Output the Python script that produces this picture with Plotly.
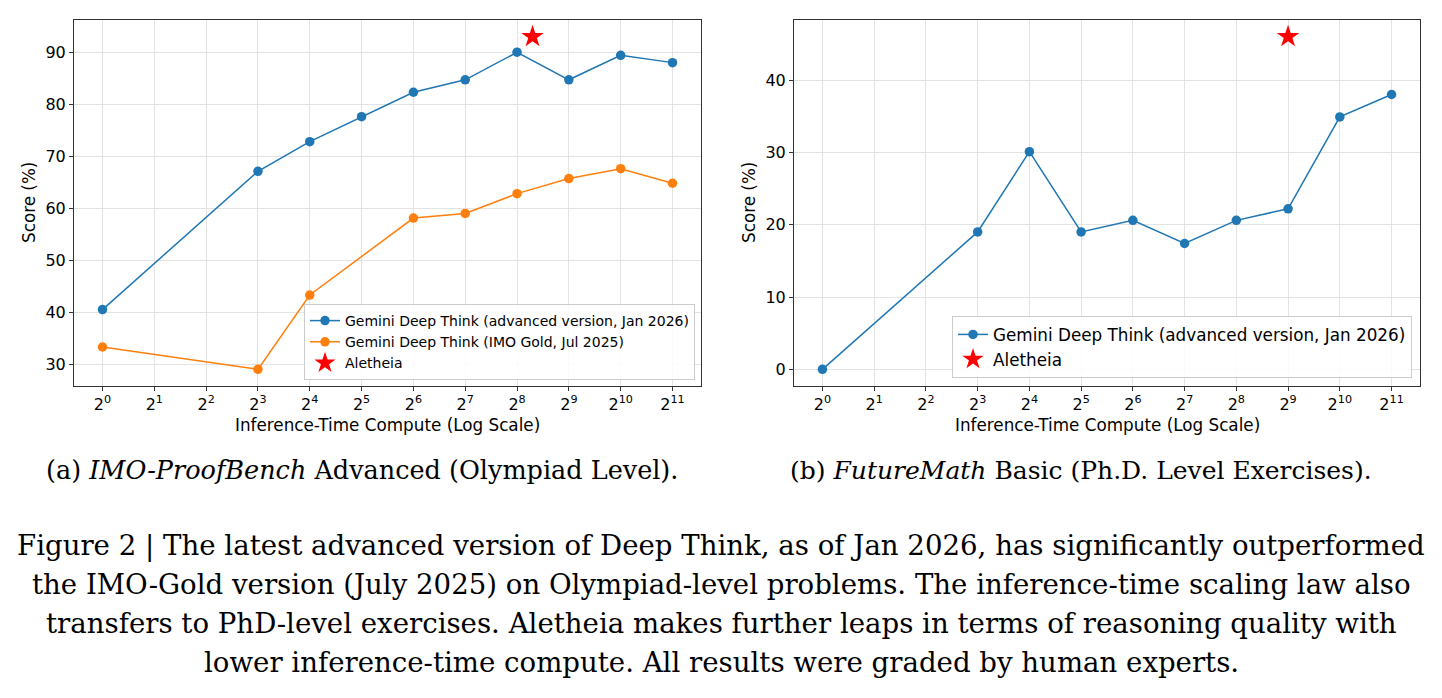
import math
import plotly.graph_objects as go

W, H = 1442, 698

# ---------------- data ----------------
exponents = list(range(12))
tick_labels = [f"2<sup>{e}</sup>" for e in exponents]
tick_vals = [2 ** e for e in exponents]

# Panel (a) IMO-ProofBench Advanced
a_new_x = [1, 8, 16, 32, 64, 128, 256, 512, 1024, 2048]
a_new_y = [40.5, 67.1, 72.8, 77.6, 82.3, 84.7, 90.0, 84.7, 89.4, 88.0]
a_old_x = [1, 8, 16, 64, 128, 256, 512, 1024, 2048]
a_old_y = [33.3, 29.0, 43.3, 58.1, 59.0, 62.8, 65.7, 67.6, 64.8]
a_star_x = [315]
a_star_y = [93.0]

# Panel (b) FutureMath Basic
b_new_x = [1, 8, 16, 32, 64, 128, 256, 512, 1024, 2048]
b_new_y = [0.0, 19.0, 30.1, 19.0, 20.6, 17.4, 20.6, 22.2, 34.9, 38.0]
b_star_x = [512]
b_star_y = [46.0]

name_new = "Gemini Deep Think (advanced version, Jan 2026)"
name_old = "Gemini Deep Think (IMO Gold, Jul 2025)"
name_star = "Aletheia"

caption_a = "(a) <i>IMO-ProofBench</i> Advanced (Olympiad Level)."
caption_b = "(b) <i>FutureMath</i> Basic (Ph.D. Level Exercises)."
fig_caption = [
    "Figure 2 | The latest advanced version of Deep Think, as of Jan 2026, has significantly outperformed",
    "the IMO-Gold version (July 2025) on Olympiad-level problems. The inference-time scaling law also",
    "transfers to PhD-level exercises. Aletheia makes further leaps in terms of reasoning quality with",
    "lower inference-time compute. All results were graded by human experts.",
]

BLUE = "#1f77b4"
ORANGE = "#ff7f0e"
RED = "#ff0000"
SANS = "DejaVu Sans"
SERIF = "DejaVu Serif"

# ---------------- layout helpers ----------------
def px_x(p):
    return p / W

def px_y(p):
    return 1 - p / H

top, bottom = 20, 386
left_dom = [px_x(74), px_x(701)]
right_dom = [px_x(794), px_x(1420)]
ydom = [px_y(bottom), px_y(top)]

fig = go.Figure()

def line_trace(x, y, name, color, xa, ya, leg):
    return go.Scatter(x=x, y=y, name=name, xaxis=xa, yaxis=ya, mode="lines+markers",
                      line=dict(color=color, width=1.5), marker=dict(size=9.5, color=color),
                      legend=leg)

def star_trace(x, y, xa, ya, leg):
    return go.Scatter(x=x, y=y, name=name_star, xaxis=xa, yaxis=ya, mode="markers",
                      marker=dict(symbol="star", size=17, color=RED, line=dict(width=0)),
                      legend=leg)

fig.add_trace(line_trace(a_new_x, a_new_y, name_new, BLUE, "x", "y", "legend"))
fig.add_trace(line_trace(a_old_x, a_old_y, name_old, ORANGE, "x", "y", "legend"))
fig.add_trace(star_trace(a_star_x, a_star_y, "x", "y", "legend"))
fig.add_trace(line_trace(b_new_x, b_new_y, name_new, BLUE, "x2", "y2", "legend2"))
fig.add_trace(star_trace(b_star_x, b_star_y, "x2", "y2", "legend2"))

def xaxis(dom, anchor):
    return dict(
        domain=dom, anchor=anchor, type="log",
        range=[math.log10(2 ** -0.55), math.log10(2 ** 11.55)],
        tickmode="array", tickvals=tick_vals, ticktext=tick_labels,
        showgrid=True, gridcolor="#e3e3e3", gridwidth=1,
        showline=True, linecolor="#333333", linewidth=1, mirror=True,
        ticks="outside", ticklen=4, tickcolor="#333333",
        tickfont=dict(family=SANS, size=16, color="#000"),
        zeroline=False,
    )

def yaxis(dom, anchor, rng, tv):
    return dict(
        domain=dom, anchor=anchor, range=rng,
        tickmode="array", tickvals=tv,
        showgrid=True, gridcolor="#e3e3e3", gridwidth=1,
        showline=True, linecolor="#333333", linewidth=1, mirror=True,
        ticks="outside", ticklen=4, tickcolor="#333333",
        tickfont=dict(family=SANS, size=16, color="#000"),
        zeroline=False,
    )

a_ymin = min(min(a_new_y), min(a_old_y), min(a_star_y))
a_ymax = max(max(a_new_y), max(a_old_y), max(a_star_y))
a_pad = 0.05 * (a_ymax - a_ymin)
b_ymin = min(min(b_new_y), min(b_star_y))
b_ymax = max(max(b_new_y), max(b_star_y))
b_pad = 0.05 * (b_ymax - b_ymin)

legend_common = dict(
    bgcolor="rgba(255,255,255,0.85)", bordercolor="#cccccc", borderwidth=1,
    xanchor="right", yanchor="bottom", tracegroupgap=0,
)

fig.update_layout(
    width=W, height=H,
    margin=dict(l=0, r=0, t=0, b=0),
    paper_bgcolor="white", plot_bgcolor="white",
    showlegend=True,
    xaxis=xaxis(left_dom, "y"),
    yaxis=yaxis(ydom, "x", [a_ymin - a_pad, a_ymax + a_pad], [30, 40, 50, 60, 70, 80, 90]),
    xaxis2=xaxis(right_dom, "y2"),
    yaxis2=yaxis(ydom, "x2", [b_ymin - b_pad, b_ymax + b_pad], [0, 10, 20, 30, 40]),
    legend=dict(x=px_x(695), y=px_y(380), font=dict(family=SANS, size=14, color="#000"), **legend_common),
    legend2=dict(x=px_x(1412), y=px_y(378), font=dict(family=SANS, size=16.8, color="#000"), **legend_common),
)

ann = []
# axis titles
for cx in [(74 + 701) / 2, (794 + 1420) / 2]:
    ann.append(dict(text="Inference-Time Compute (Log Scale)", x=px_x(cx), y=px_y(425),
                    xref="paper", yref="paper", showarrow=False, xanchor="center", yanchor="middle",
                    font=dict(family=SANS, size=16.8, color="#000")))
for cx in [29, 749]:
    ann.append(dict(text="Score (%)", x=px_x(cx), y=px_y((top + bottom) / 2), textangle=-90,
                    xref="paper", yref="paper", showarrow=False, xanchor="center", yanchor="middle",
                    font=dict(family=SANS, size=16.8, color="#000")))
# sub-captions
ann.append(dict(text=caption_a, x=px_x(361.5), y=px_y(470), xref="paper", yref="paper", showarrow=False,
                xanchor="center", yanchor="middle", font=dict(family=SERIF, size=25.5, color="#000")))
ann.append(dict(text=caption_b, x=px_x(1081), y=px_y(470), xref="paper", yref="paper", showarrow=False,
                xanchor="center", yanchor="middle", font=dict(family=SERIF, size=25, color="#000")))
# figure caption
for i, line in enumerate(fig_caption):
    ann.append(dict(text=line, x=0.5, y=px_y(545 + 39.3 * i), xref="paper", yref="paper", showarrow=False,
                    xanchor="center", yanchor="middle", font=dict(family=SERIF, size=27.6, color="#000")))

fig.update_layout(annotations=ann)

fig.write_html("out.html")
